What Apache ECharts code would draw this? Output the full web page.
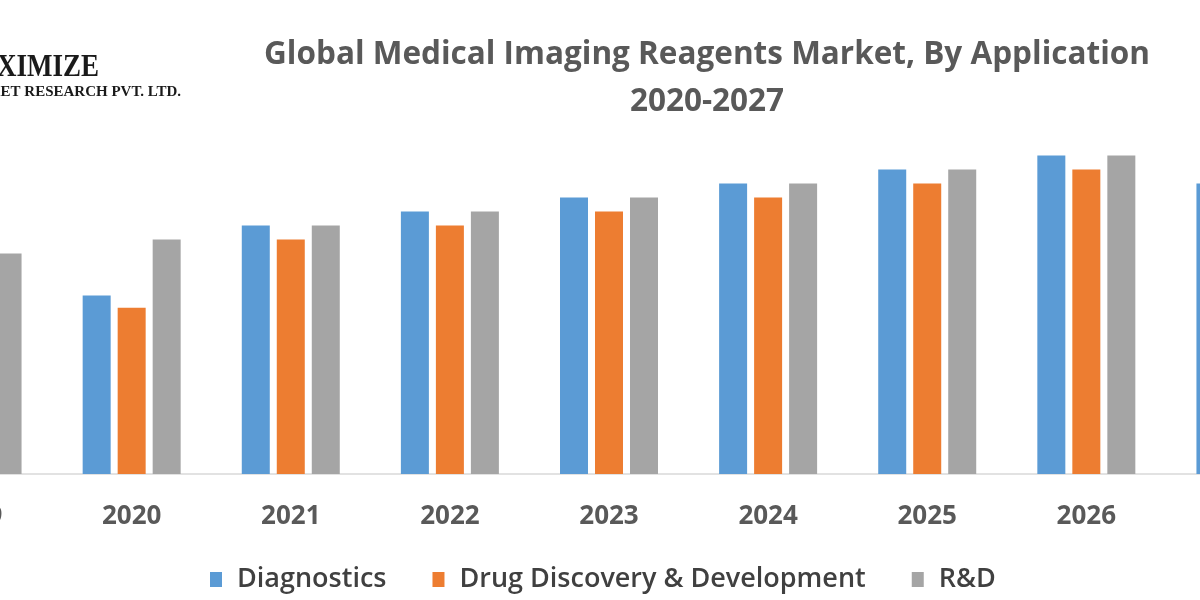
<!DOCTYPE html>
<html>
<head>
<meta charset="utf-8">
<script src="https://cdn.jsdelivr.net/npm/echarts@6/dist/echarts.min.js"></script>
<style>html,body{margin:0;padding:0;background:#fff;overflow:hidden;width:1200px;height:600px;position:relative}#c{position:absolute;left:-107px;top:0;width:1432px;height:600px}</style>
</head>
<body>
<div id="c"></div>
<script>
const titleLine1 = 'Global Medical Imaging Reagents Market, By Application';
const titleLine2 = '2020-2027';
const categories = ['2019', '2020', '2021', '2022', '2023', '2024', '2025', '2026', '2027'];
const seriesNames = ['Diagnostics', 'Drug Discovery & Development', 'R&D'];
const diagnostics = [59, 51, 71, 75, 79, 83, 87, 91, 83];
const drugDiscovery = [55, 47.5, 67, 71, 75, 79, 83, 87, 79];
const rnd = [63, 67, 71, 75, 79, 83, 87, 91, 83];
const colors = ['#5B9BD5', '#ED7D31', '#A5A5A5'];

const OX = 107; // page offset of the chart canvas
const chart = echarts.init(document.getElementById('c'));
const font = '"Open Sans", "Noto Sans", sans-serif';
const mk = (name, data, i) => ({
  name, type: 'bar', data, barWidth: 28, barGap: '25%',
  itemStyle: { color: colors[i] }, silent: true
});
chart.setOption({
  animation: false,
  backgroundColor: '#ffffff',
  grid: { left: 0, right: 0, top: 124, bottom: 126, containLabel: false },
  xAxis: {
    type: 'category', data: categories,
    axisLine: { lineStyle: { color: '#d9d9d9', width: 1.5 } },
    axisTick: { show: false },
    axisLabel: { color: '#595959', fontSize: 26, fontWeight: 'bold', fontFamily: font, margin: 30 }
  },
  yAxis: { type: 'value', min: 0, max: 100, show: false, splitLine: { show: false } },
  legend: {
    bottom: 2, left: 205 + OX,
    itemWidth: 12, itemHeight: 15, itemGap: 46,
    icon: 'rect',
    textStyle: { color: '#404040', fontSize: 27, fontWeight: 600, fontFamily: font, padding: [0, 0, 0, 10] },
    data: seriesNames
  },
  graphic: [
    { type: 'text', x: 707 + OX, y: 55, style: { text: titleLine1, fill: '#595959', font: 'bold 31.5px ' + font, textAlign: 'center', textVerticalAlign: 'middle' } },
    { type: 'text', x: 707 + OX, y: 102, style: { text: titleLine2, fill: '#595959', font: 'bold 31.5px ' + font, textAlign: 'center', textVerticalAlign: 'middle' } },
    { type: 'text', x: 99 + OX, y: 68, scaleY: 1.2, style: { text: 'MAXIMIZE', fill: '#1a1a1a', font: 'bold 27px "Liberation Serif", serif', textAlign: 'right', textVerticalAlign: 'middle' } },
    { type: 'text', x: 181 + OX, y: 92, style: { text: 'MARKET RESEARCH PVT. LTD.', fill: '#1a1a1a', font: 'bold 15px "Liberation Serif", serif', textAlign: 'right', textVerticalAlign: 'middle' } }
  ],
  series: [mk(seriesNames[0], diagnostics, 0), mk(seriesNames[1], drugDiscovery, 1), mk(seriesNames[2], rnd, 2)]
});
</script>
</body>
</html>
